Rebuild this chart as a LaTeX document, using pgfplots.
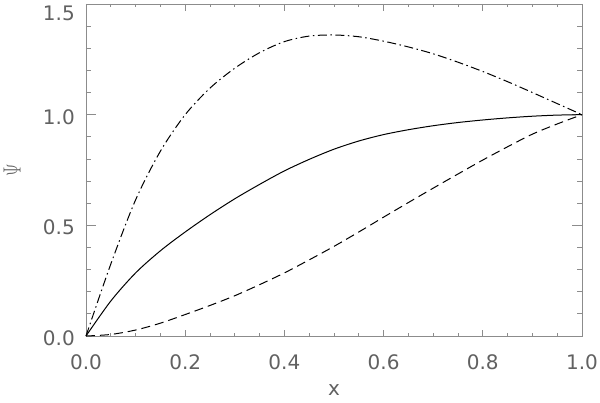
\documentclass[border=0pt]{standalone}
\usepackage{fontspec}
\setmainfont{DejaVu Sans}
\usepackage{graphicx}
\usepackage{pgfplots}
\pgfplotsset{compat=1.18}
\begin{document}
\begin{tikzpicture}
\begin{axis}[
  scale only axis, width=496pt, height=332pt,
  at={(0,0)}, anchor=south west,
  xmin=0, xmax=1, ymin=0, ymax=1.5,
  xtick={0,0.2,0.4,0.6,0.8,1.0}, ytick={0,0.5,1.0,1.5},
  minor x tick num=3, minor y tick num=4,
  tick align=inside, major tick length=8pt, minor tick length=4.5pt,
  xtick style={/pgfplots/major tick length=6.5pt, /pgfplots/minor tick length=3.2pt},
  ytick style={/pgfplots/major tick length=10pt, /pgfplots/minor tick length=5.5pt},
  axis line style={black!45, line width=0.8pt},
  every tick/.style={black!45, line width=0.8pt},
  /pgf/number format/assume math mode=true,
  xticklabel={\pgfmathprintnumber[fixed,fixed zerofill,precision=1]{\tick}},
  yticklabel={\ifnum\ticknum=3 \raisebox{-7.5pt}{1.5}\else\pgfmathprintnumber[fixed,fixed zerofill,precision=1]{\tick}\fi},
  ticklabel style={font=\fontsize{20}{24}\selectfont, text=black!62},
  xticklabel style={anchor=base, inner sep=0pt, yshift=-33.5pt},
  yticklabel style={anchor=base east, inner sep=0pt, xshift=-11pt, yshift=-9.5pt},
  xlabel={$\mathrm{x}$}, ylabel={\scalebox{0.7}[1.0]{$\Psi$}},
  xlabel style={font=\fontsize{20}{24}\selectfont, text=black!62, at={(axis description cs:0.5,-0.162)}, anchor=center},
  ylabel style={font=\fontsize{25}{30}\selectfont, text=black!62, at={(axis description cs:-0.149,0.5)}, anchor=center},
  clip=false,
]
\addplot[black, line width=1pt, smooth] coordinates {
(0,0) (0.05,0.158) (0.1,0.285) (0.15,0.385) (0.2,0.47) (0.25,0.548)
(0.3,0.62) (0.35,0.685) (0.4,0.746) (0.45,0.798) (0.5,0.844) (0.55,0.881)
(0.6,0.910) (0.65,0.932) (0.7,0.950) (0.75,0.9645) (0.8,0.976) (0.85,0.9855)
(0.9,0.993) (0.95,0.998) (1.0,1.0)};
\addplot[black, line width=1pt, smooth, dash pattern=on 9pt off 5pt] coordinates {
(0,0) (0.05,0.007) (0.1,0.027) (0.15,0.058) (0.2,0.097) (0.25,0.138)
(0.3,0.182) (0.35,0.232) (0.4,0.285) (0.45,0.344) (0.5,0.405) (0.55,0.47)
(0.6,0.537) (0.65,0.603) (0.7,0.668) (0.75,0.732) (0.8,0.795) (0.85,0.855)
(0.9,0.912) (0.95,0.958) (1.0,1.0)};
\addplot[black, line width=1pt, smooth, dash pattern=on 9pt off 3.5pt on 1.5pt off 3.5pt] coordinates {
(0,0) (0.05,0.325) (0.1,0.615) (0.15,0.835) (0.2,1.0) (0.25,1.12)
(0.3,1.21) (0.35,1.28) (0.4,1.33) (0.45,1.355) (0.5,1.36) (0.55,1.352)
(0.6,1.332) (0.65,1.306) (0.7,1.275) (0.75,1.237) (0.8,1.195) (0.85,1.149)
(0.9,1.10) (0.95,1.05) (1.0,1.0)};
\end{axis}
\pgfresetboundingbox
\path[use as bounding box] (-86pt,-66pt) rectangle (514pt,336pt);
\end{tikzpicture}
\end{document}
